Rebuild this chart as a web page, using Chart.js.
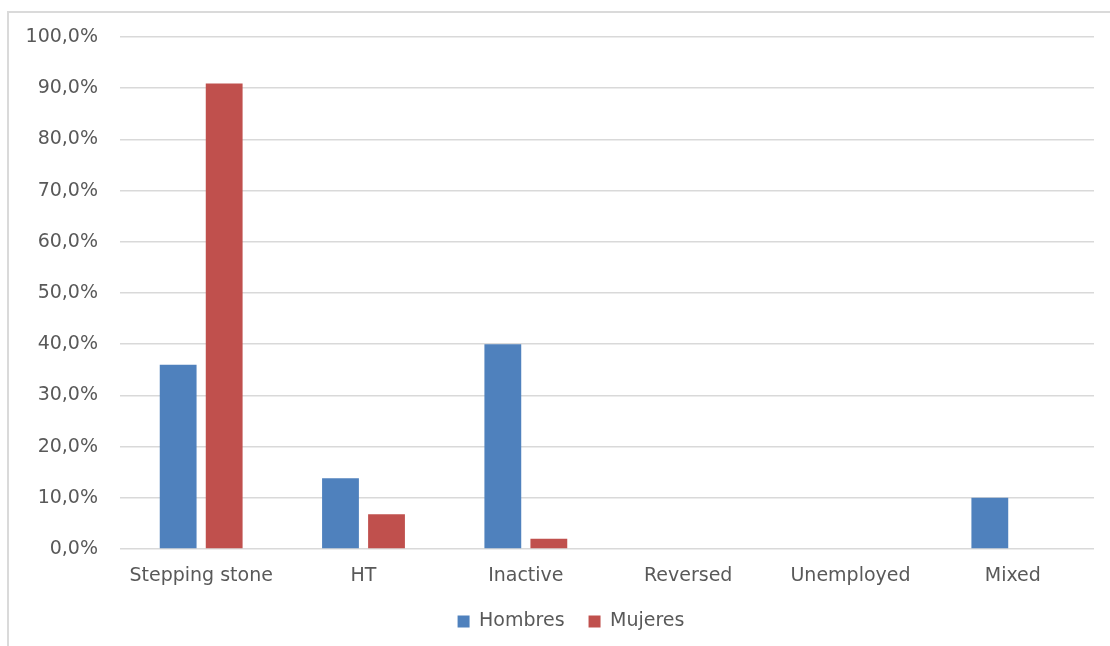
<!DOCTYPE html>
<html>
<head>
<meta charset="utf-8">
<script src="https://cdn.jsdelivr.net/npm/chart.js@4/dist/chart.umd.min.js"></script>
<style>
  html, body { margin: 0; padding: 0; background: #ffffff; overflow: hidden; }
  #frame {
    position: absolute; left: 7px; top: 11px;
    width: 1200px; height: 700px;
    border-left: 2px solid #dadada; border-top: 2px solid #dadada;
  }
  #wrap { position: absolute; left: 0; top: 0; width: 1110px; height: 646px; }
</style>
</head>
<body>
<div id="frame"></div>
<div id="wrap"><canvas id="chart" width="1110" height="646"></canvas></div>
<script>
// Categories and series (percent)
const categories = ['Stepping stone', 'HT', 'Inactive', 'Reversed', 'Unemployed', 'Mixed'];
const hombres = [36.0, 13.8, 40.0, 0, 0, 10.0];
const mujeres = [90.9, 6.8, 2.0, 0, 0, 0];
const seriesNames = ['Hombres', 'Mujeres'];
const yTicks = [0, 10, 20, 30, 40, 50, 60, 70, 80, 90, 100];

const textColor = '#595959';
const gridColor = '#d9d9d9';
const font = { family: '"DejaVu Sans", sans-serif', size: 19 };

const fmtPct = v => v.toFixed(1).replace('.', ',') + '%';

// Centre the legend under the plot area rather than the whole canvas
const legendOffset = {
  id: 'legendOffset',
  afterLayout(chart) {
    if (chart.legend) chart.legend.left += 48;
  }
};

new Chart(document.getElementById('chart'), {
  type: 'bar',
  data: {
    labels: categories,
    datasets: [
      { label: seriesNames[0], data: hombres, backgroundColor: '#4f81bd', borderWidth: 0 },
      { label: seriesNames[1], data: mujeres, backgroundColor: '#c0504d', borderWidth: 0 }
    ]
  },
  options: {
    responsive: false,
    animation: false,
    devicePixelRatio: 1,
    categoryPercentage: 0.567,
    barPercentage: 0.80,
    layout: { padding: { top: 37, right: 16, bottom: 5, left: 0 } },
    plugins: {
      tooltip: { enabled: false },
      legend: {
        position: 'bottom',
        labels: {
          boxWidth: 12, boxHeight: 12, padding: 24,
          color: textColor, font: font
        }
      }
    },
    scales: {
      x: {
        grid: { display: false, drawTicks: false },
        border: { display: false },
        ticks: { color: textColor, font: font, padding: 16, maxRotation: 0 },
        afterFit: s => { s.height = 39; }
      },
      y: {
        min: 0, max: 100,
        afterBuildTicks: s => { s.ticks = yTicks.map(v => ({ value: v })); },
        grid: { color: gridColor, lineWidth: 1.5, drawTicks: false },
        border: { display: false },
        ticks: { color: textColor, font: font, padding: 22, callback: v => fmtPct(v) },
        afterFit: s => { s.width = 120; }
      }
    }
  },
  plugins: [legendOffset]
});
</script>
</body>
</html>
